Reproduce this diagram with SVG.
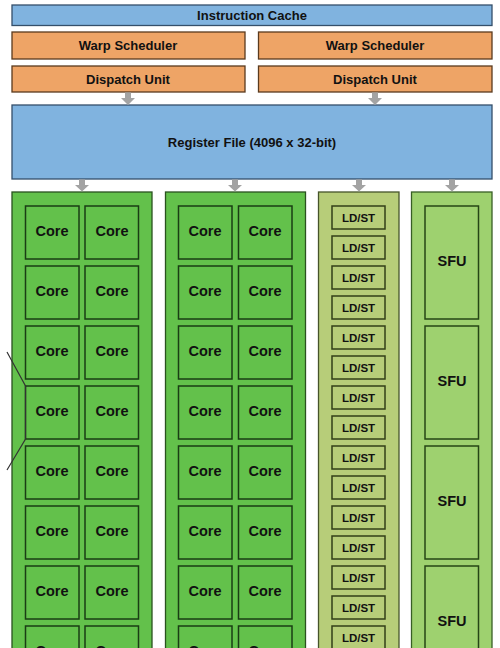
<svg xmlns="http://www.w3.org/2000/svg" width="500" height="648" viewBox="0 0 500 648">
<defs>
<style>
text{font-family:"Liberation Sans",Arial,sans-serif;font-weight:bold;fill:#111;text-anchor:middle;dominant-baseline:central}
.blue{fill:#80b3df;stroke:#344f6a;stroke-width:1.3}
.orange{fill:#eea466;stroke:#5a3a1e;stroke-width:1.3}
.col{fill:#63c14b;stroke:#2a521f;stroke-width:1.3}
.core{fill:#63c14b;stroke:#1a3d14;stroke-width:1.5}
.ldcol{fill:#b7cd79;stroke:#46542a;stroke-width:1.3}
.ld{fill:#b7cd79;stroke:#333f18;stroke-width:1.5}
.sfucol{fill:#9ed16f;stroke:#385f25;stroke-width:1.3}
.sfu{fill:#9ed16f;stroke:#264516;stroke-width:1.5}
.h{font-size:13px}
.c{font-size:14.5px}
.l{font-size:11.5px}
.arr{fill:#a3a3a3}
</style>
</defs>
<rect width="500" height="648" fill="#fff"/>

<g id="instruction-cache"><rect class="blue" x="12" y="5" width="480" height="20.5"/><text class="h" x="252" y="15.5">Instruction Cache</text></g>
<g id="warp-scheduler-1"><rect class="orange" x="12" y="32" width="233" height="27"/><text class="h" x="128" y="45.5">Warp Scheduler</text></g>
<g id="warp-scheduler-2"><rect class="orange" x="258.5" y="32" width="233.5" height="27"/><text class="h" x="375" y="45.5">Warp Scheduler</text></g>
<g id="dispatch-1"><rect class="orange" x="12" y="66" width="233" height="26"/><text class="h" x="128" y="79">Dispatch Unit</text></g>
<g id="dispatch-2"><rect class="orange" x="258.5" y="66" width="233.5" height="26"/><text class="h" x="375" y="79">Dispatch Unit</text></g>
<g id="register-file"><rect class="blue" x="12" y="105" width="480" height="74"/><text class="h" x="252" y="142">Register File (4096 x 32-bit)</text></g>

<g id="core-column-1">
<rect class="col" x="12" y="192" width="140" height="470"/>
<g id="c1r1"><rect class="core" x="25.5" y="206" width="53.5" height="53"/><text class="c" x="52" y="231">Core</text><rect class="core" x="85" y="206" width="53.5" height="53"/><text class="c" x="112" y="231">Core</text></g>
<g id="c1r2"><rect class="core" x="25.5" y="266" width="53.5" height="53"/><text class="c" x="52" y="291">Core</text><rect class="core" x="85" y="266" width="53.5" height="53"/><text class="c" x="112" y="291">Core</text></g>
<g id="c1r3"><rect class="core" x="25.5" y="326" width="53.5" height="53"/><text class="c" x="52" y="351">Core</text><rect class="core" x="85" y="326" width="53.5" height="53"/><text class="c" x="112" y="351">Core</text></g>
<g id="c1r4"><rect class="core" x="25.5" y="386" width="53.5" height="53"/><text class="c" x="52" y="411">Core</text><rect class="core" x="85" y="386" width="53.5" height="53"/><text class="c" x="112" y="411">Core</text></g>
<g id="c1r5"><rect class="core" x="25.5" y="446" width="53.5" height="53"/><text class="c" x="52" y="471">Core</text><rect class="core" x="85" y="446" width="53.5" height="53"/><text class="c" x="112" y="471">Core</text></g>
<g id="c1r6"><rect class="core" x="25.5" y="506" width="53.5" height="53"/><text class="c" x="52" y="531">Core</text><rect class="core" x="85" y="506" width="53.5" height="53"/><text class="c" x="112" y="531">Core</text></g>
<g id="c1r7"><rect class="core" x="25.5" y="566" width="53.5" height="53"/><text class="c" x="52" y="591">Core</text><rect class="core" x="85" y="566" width="53.5" height="53"/><text class="c" x="112" y="591">Core</text></g>
<g id="c1r8"><rect class="core" x="25.5" y="626" width="53.5" height="53"/><text class="c" x="52" y="651">Core</text><rect class="core" x="85" y="626" width="53.5" height="53"/><text class="c" x="112" y="651">Core</text></g>
</g>

<g id="core-column-2">
<rect class="col" x="165.5" y="192" width="140" height="470"/>
<g id="c2r1"><rect class="core" x="178.5" y="206" width="53.5" height="53"/><text class="c" x="205" y="231">Core</text><rect class="core" x="238.5" y="206" width="53.5" height="53"/><text class="c" x="265" y="231">Core</text></g>
<g id="c2r2"><rect class="core" x="178.5" y="266" width="53.5" height="53"/><text class="c" x="205" y="291">Core</text><rect class="core" x="238.5" y="266" width="53.5" height="53"/><text class="c" x="265" y="291">Core</text></g>
<g id="c2r3"><rect class="core" x="178.5" y="326" width="53.5" height="53"/><text class="c" x="205" y="351">Core</text><rect class="core" x="238.5" y="326" width="53.5" height="53"/><text class="c" x="265" y="351">Core</text></g>
<g id="c2r4"><rect class="core" x="178.5" y="386" width="53.5" height="53"/><text class="c" x="205" y="411">Core</text><rect class="core" x="238.5" y="386" width="53.5" height="53"/><text class="c" x="265" y="411">Core</text></g>
<g id="c2r5"><rect class="core" x="178.5" y="446" width="53.5" height="53"/><text class="c" x="205" y="471">Core</text><rect class="core" x="238.5" y="446" width="53.5" height="53"/><text class="c" x="265" y="471">Core</text></g>
<g id="c2r6"><rect class="core" x="178.5" y="506" width="53.5" height="53"/><text class="c" x="205" y="531">Core</text><rect class="core" x="238.5" y="506" width="53.5" height="53"/><text class="c" x="265" y="531">Core</text></g>
<g id="c2r7"><rect class="core" x="178.5" y="566" width="53.5" height="53"/><text class="c" x="205" y="591">Core</text><rect class="core" x="238.5" y="566" width="53.5" height="53"/><text class="c" x="265" y="591">Core</text></g>
<g id="c2r8"><rect class="core" x="178.5" y="626" width="53.5" height="53"/><text class="c" x="205" y="651">Core</text><rect class="core" x="238.5" y="626" width="53.5" height="53"/><text class="c" x="265" y="651">Core</text></g>
</g>

<g id="ldst-column">
<rect class="ldcol" x="318.5" y="192" width="80.5" height="470"/>
<g id="ld1"><rect class="ld" x="332" y="206" width="53" height="23"/><text class="l" x="358.5" y="217.5">LD/ST</text></g>
<g id="ld2"><rect class="ld" x="332" y="236" width="53" height="23"/><text class="l" x="358.5" y="247.5">LD/ST</text></g>
<g id="ld3"><rect class="ld" x="332" y="266" width="53" height="23"/><text class="l" x="358.5" y="277.5">LD/ST</text></g>
<g id="ld4"><rect class="ld" x="332" y="296" width="53" height="23"/><text class="l" x="358.5" y="307.5">LD/ST</text></g>
<g id="ld5"><rect class="ld" x="332" y="326" width="53" height="23"/><text class="l" x="358.5" y="337.5">LD/ST</text></g>
<g id="ld6"><rect class="ld" x="332" y="356" width="53" height="23"/><text class="l" x="358.5" y="367.5">LD/ST</text></g>
<g id="ld7"><rect class="ld" x="332" y="386" width="53" height="23"/><text class="l" x="358.5" y="397.5">LD/ST</text></g>
<g id="ld8"><rect class="ld" x="332" y="416" width="53" height="23"/><text class="l" x="358.5" y="427.5">LD/ST</text></g>
<g id="ld9"><rect class="ld" x="332" y="446" width="53" height="23"/><text class="l" x="358.5" y="457.5">LD/ST</text></g>
<g id="ld10"><rect class="ld" x="332" y="476" width="53" height="23"/><text class="l" x="358.5" y="487.5">LD/ST</text></g>
<g id="ld11"><rect class="ld" x="332" y="506" width="53" height="23"/><text class="l" x="358.5" y="517.5">LD/ST</text></g>
<g id="ld12"><rect class="ld" x="332" y="536" width="53" height="23"/><text class="l" x="358.5" y="547.5">LD/ST</text></g>
<g id="ld13"><rect class="ld" x="332" y="566" width="53" height="23"/><text class="l" x="358.5" y="577.5">LD/ST</text></g>
<g id="ld14"><rect class="ld" x="332" y="596" width="53" height="23"/><text class="l" x="358.5" y="607.5">LD/ST</text></g>
<g id="ld15"><rect class="ld" x="332" y="626" width="53" height="23"/><text class="l" x="358.5" y="637.5">LD/ST</text></g>
</g>

<g id="sfu-column">
<rect class="sfucol" x="411.5" y="192" width="80.5" height="470"/>
<g id="sfu1"><rect class="sfu" x="425" y="206" width="53.5" height="113"/><text class="c" x="452" y="261">SFU</text></g>
<g id="sfu2"><rect class="sfu" x="425" y="326" width="53.5" height="113"/><text class="c" x="452" y="381">SFU</text></g>
<g id="sfu3"><rect class="sfu" x="425" y="446" width="53.5" height="113"/><text class="c" x="452" y="501">SFU</text></g>
<g id="sfu4"><rect class="sfu" x="425" y="566" width="53.5" height="113"/><text class="c" x="452" y="621">SFU</text></g>
</g>

<g id="connectors">
<polygon class="arr" points="125,92.5 131,92.5 131,98 135,98 128,105 121,98 125,98"/>
<polygon class="arr" points="372,92.5 378,92.5 378,98 382,98 375,105 368,98 372,98"/>
<polygon class="arr" points="79,179.5 85,179.5 85,185 89,185 82,191.5 75,185 79,185"/>
<polygon class="arr" points="232,179.5 238,179.5 238,185 242,185 235,191.5 228,185 232,185"/>
<polygon class="arr" points="356,179.5 362,179.5 362,185 366,185 359,191.5 352,185 356,185"/>
<polygon class="arr" points="449,179.5 455,179.5 455,185 459,185 452,191.5 445,185 449,185"/>
<polyline points="7,352 25.5,386 25.5,439 7,470" fill="none" stroke="#333" stroke-width="1.2"/>
</g>
</svg>
